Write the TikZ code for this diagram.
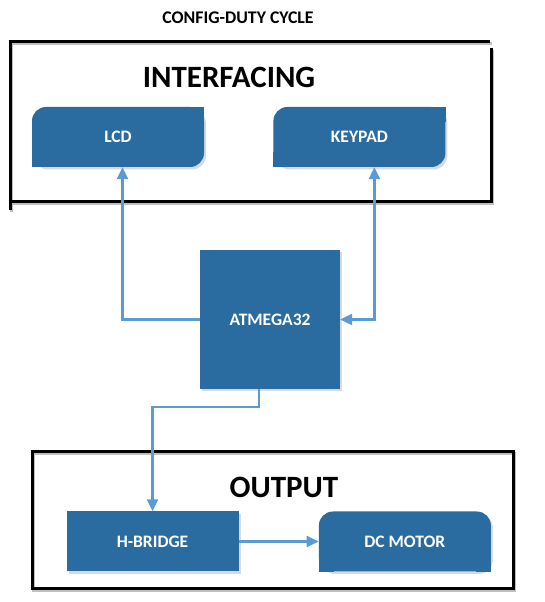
\documentclass[tikz,border=0pt]{standalone}
\usepackage{fontspec}
\setmainfont{Carlito}
\usepackage{xcolor}
\usetikzlibrary{positioning,arrows.meta,shadows}
\definecolor{boxblue}{HTML}{2A6BA0}
\definecolor{linkblue}{HTML}{5B9BD5}

\begin{document}
\begin{tikzpicture}[x=1pt, y=1pt, >={Triangle[length=12pt,width=11pt]},
    block/.style={fill=boxblue, text=white, font=\fontsize{17.5}{20}\selectfont\bfseries, inner sep=0pt,
        minimum width=172pt, minimum height=60pt, drop shadow={shadow xshift=2pt,shadow yshift=-2.5pt,opacity=0.3}},
    roundblock/.style={block, rounded corners=14pt},
    frame/.style={line width=3pt, preaction={draw=black!25, line width=3pt, transform canvas={xshift=1.5pt,yshift=-2pt}}},
    heading/.style={font=\fontsize{31}{36}\selectfont\bfseries},
    link/.style={draw=linkblue, line width=2.3pt}]
    \useasboundingbox (0,0) rectangle (545,602);
    \node[font=\fontsize{17.8}{20}\selectfont\bfseries] (title) at (238,584.5) {CONFIG-DUTY CYCLE};

    % interfacing group
    \draw[frame] (10,392) -- (10,560) -- (490,560);
    \draw[frame] (491,554) -- (491,400) -- (10,400);
    \node[heading] (inf) at (229,525) {INTERFACING};
    \node[roundblock] (lcd) at (118,465) {LCD};
    \node[roundblock, right=69pt of lcd] (kp) {KEYPAD};
    \fill[boxblue] (lcd.south west) rectangle ++(15,15);
    \fill[boxblue] (lcd.north east) rectangle ++(-15,-15);
    \fill[boxblue] (kp.south west) rectangle ++(15,15);
    \fill[boxblue] (kp.north east) rectangle ++(-15,-15);

    % controller
    \node[block, minimum width=140pt, minimum height=139pt] (atm) at (270,282.5) {ATMEGA32};

    % output group
    \draw[frame] (32,13) rectangle (513,150);
    \node[heading] (out) at (284,115) {OUTPUT};
    \node[block] (hb) at (152.5,60.5) {H-BRIDGE};
    \node[roundblock, right=80pt of hb] (dcm) {DC MOTOR};
    \fill[boxblue] (dcm.south west) rectangle ++(15,15);
    \fill[boxblue] (dcm.south east) rectangle ++(-15,15);

    % links
    \draw[link,->] (atm.west) -| ([xshift=4.5]lcd.south);
    \draw[link,<->] ([xshift=15]kp.south) |- (atm.east);
    \draw[link,->] ([xshift=-11]atm.south) -- ++(0,-18) -| (hb.north);
    \draw[link,->] (hb) -- (dcm);
\end{tikzpicture}
\end{document}
